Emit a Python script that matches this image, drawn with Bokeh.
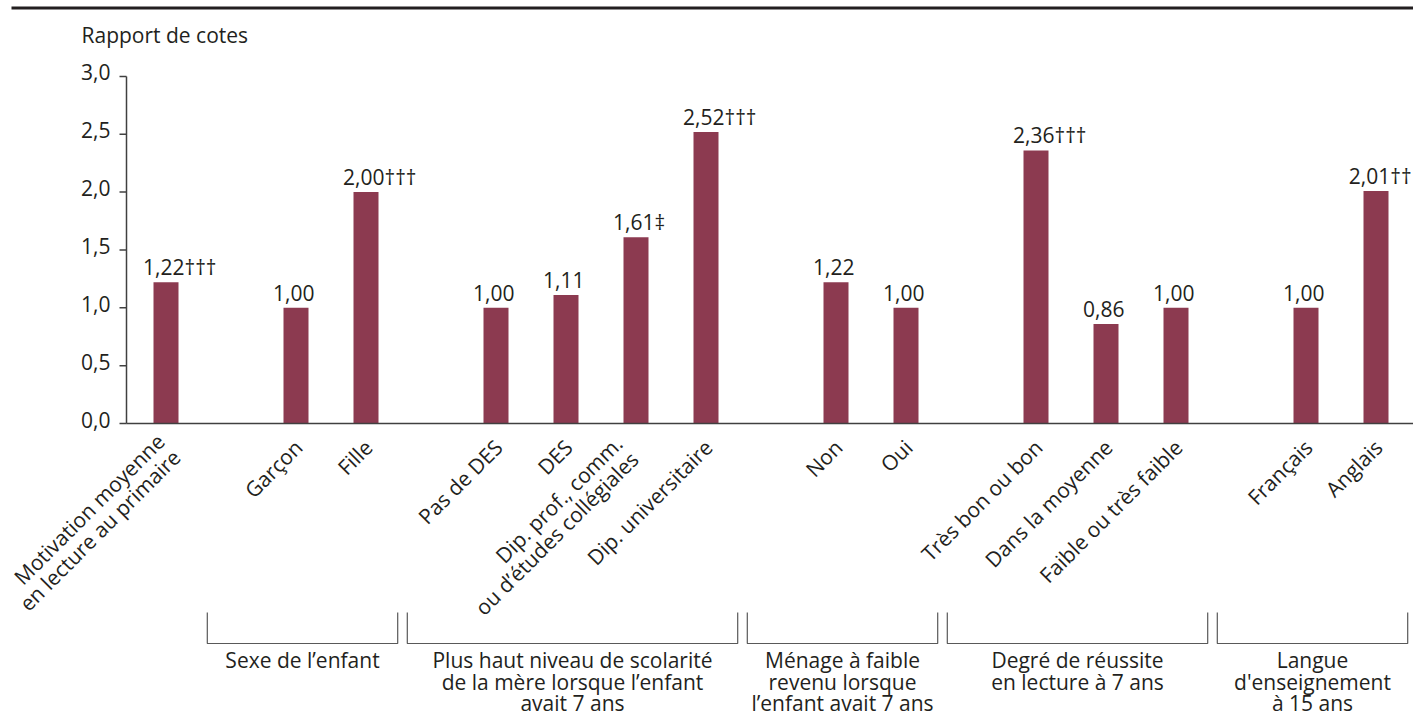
import math
from bokeh.plotting import figure
from bokeh.models import Range1d, ColumnDataSource
from bokeh.core.properties import value
from bokeh.embed import file_html
from bokeh.resources import INLINE

# ---------------- data ----------------
categories = [
    "Motivation moyenne\nen lecture au primaire",
    "Garçon", "Fille",
    "Pas de DES", "DES", "Dip. prof., comm.\nou d’études collégiales", "Dip. universitaire",
    "Non", "Oui",
    "Très bon ou bon", "Dans la moyenne", "Faible ou très faible",
    "Français", "Anglais",
]
values = [1.22, 1.00, 2.00, 1.00, 1.11, 1.61, 2.52, 1.22, 1.00, 2.36, 0.86, 1.00, 1.00, 2.01]
marks = ["†††", "", "†††", "", "", "‡", "†††", "", "", "†††", "", "", "", "††"]
group_sizes = [1, 2, 4, 2, 3, 2]
group_names = [
    "",
    "Sexe de l’enfant",
    "Plus haut niveau de scolarité\nde la mère lorsque l’enfant\navait 7 ans",
    "Ménage à faible\nrevenu lorsque\nl’enfant avait 7 ans",
    "Degré de réussite\nen lecture à 7 ans",
    "Langue\nd'enseignement\nà 15 ans",
]
y_ticks = [0.0, 0.5, 1.0, 1.5, 2.0, 2.5, 3.0]
y_title = "Rapport de cotes"

# ---------------- layout / style ----------------
W, H = 1413, 719
PX_X = 70.0      # px per category step
PX_Y = 115.7     # px per unit of odds ratio
GROUP_GAP = 130.0 / PX_X
X0 = -165.5 / PX_X
X1 = X0 + W / PX_X
Y1 = 423.0 / PX_Y
Y0 = Y1 - H / PX_Y
AXIS_X = -39.5 / PX_X
BAR_W = 25.0 / PX_X
FONT = value("Open Sans")
FSZ = 21
FS = f"{FSZ}px"
TXT = "#231F20"
BAR = "#8C3A50"
AXC = "#404040"

# x positions derived from the group structure
xs = []
pos = 0.0
for gi, n in enumerate(group_sizes):
    if gi > 0:
        pos += GROUP_GAP
    for k in range(n):
        if k > 0:
            pos += 1.0
        xs.append(pos)

labels = [f"{v:.2f}".replace(".", ",") + m for v, m in zip(values, marks)]


def est_width(s):
    w = 0.0
    for ch in s:
        w += 0.572 if ch.isdigit() else (0.27 if ch == "," else 0.5)
    return w * FSZ


# value-label offsets: number centred over the bar, kept inside the canvas
lab_dx = []
for x, s in zip(xs, labels):
    px = (x - X0) * PX_X
    dx = -23.0
    if px + dx + est_width(s) > W - 2:
        dx = W - 2 - est_width(s) - px
    lab_dx.append(dx)

# category-label offsets (screen px); a few labels nudged as in the original
cat_dx = [2.5] * len(categories)
cat_dy = [20.0] * len(categories)
NUDGE = {0: (0.0, 2.0), 5: (-12.0, 4.0)}
for i, (ddx, ddy) in NUDGE.items():
    cat_dx[i] += ddx
    cat_dy[i] += ddy

p = figure(width=W, height=H, x_range=Range1d(X0, X1), y_range=Range1d(Y0, Y1),
           x_axis_type=None, y_axis_type=None, output_backend="svg",
           toolbar_location=None, min_border=0, outline_line_color=None,
           background_fill_color="white", border_fill_color="white")

# top rule
p.segment(x0=[X0 + 11 / PX_X], x1=[X1], y0=[Y1 - 7.5 / PX_Y], y1=[Y1 - 7.5 / PX_Y],
          line_color=TXT, line_width=3)

# bars
src = ColumnDataSource(dict(x=xs, v=values, cat=categories, lab=labels,
                            ldx=lab_dx, cdx=cat_dx, cdy=cat_dy))
p.vbar(x="x", top="v", bottom=0, width=BAR_W, source=src, fill_color=BAR, line_color=None)

# value labels
p.text(x="x", y="v", text="lab", source=src, text_font=FONT, text_font_size=FS,
       text_color=TXT, text_align="left", text_baseline="middle",
       x_offset="ldx", y_offset=-15)

# y axis
p.segment(x0=[AXIS_X], x1=[AXIS_X], y0=[0], y1=[y_ticks[-1]], line_color=AXC, line_width=1.5)
p.segment(x0=[AXIS_X] * len(y_ticks), x1=[AXIS_X - 7 / PX_X] * len(y_ticks),
          y0=y_ticks, y1=y_ticks, line_color=AXC, line_width=1.5)
p.text(x=[AXIS_X] * len(y_ticks), y=y_ticks,
       text=[f"{t:.1f}".replace(".", ",") for t in y_ticks],
       text_font=FONT, text_font_size=FS, text_color=TXT,
       text_align="right", text_baseline="middle", x_offset=-16, y_offset=-4)
p.text(x=[AXIS_X], y=[y_ticks[-1]], text=[y_title], text_font=FONT, text_font_size=FS,
       text_color=TXT, text_align="left", text_baseline="middle",
       x_offset=-45, y_offset=-41)

# x axis
p.segment(x0=[AXIS_X], x1=[X1], y0=[0], y1=[0], line_color=AXC, line_width=1.5)

# rotated category labels
p.text(x="x", y=0, text="cat", source=src, text_font=FONT, text_font_size=FS,
       text_color=TXT, text_align="right", text_baseline="middle",
       angle=math.pi / 4, x_offset="cdx", y_offset="cdy", text_line_height=0.8)

# group brackets and names
LPAD, RPAD = 88.7 / PX_X, 31.7 / PX_X
BR_TOP, BR_BOT = -189.0 / PX_Y, -220.0 / PX_Y
bx, by, gx, gy, gt = [], [], [], [], []
idx = 0
for n, name in zip(group_sizes, group_names):
    first, last = xs[idx], xs[idx + n - 1]
    idx += n
    if not name:
        continue
    l, r = first - LPAD, last + RPAD
    bx.append([l, l, r, r])
    by.append([BR_TOP, BR_BOT, BR_BOT, BR_TOP])
    gx.append((l + r) / 2)
    gy.append(BR_BOT)
    gt.append(name)
p.multi_line(xs=bx, ys=by, line_color="#595959", line_width=1.2)
p.text(x=gx, y=gy, text=gt, text_font=FONT, text_font_size=FS, text_color=TXT,
       text_align="center", text_baseline="top", y_offset=2.6, text_line_height=0.768)

open("out.html", "w").write(file_html(p, INLINE))
